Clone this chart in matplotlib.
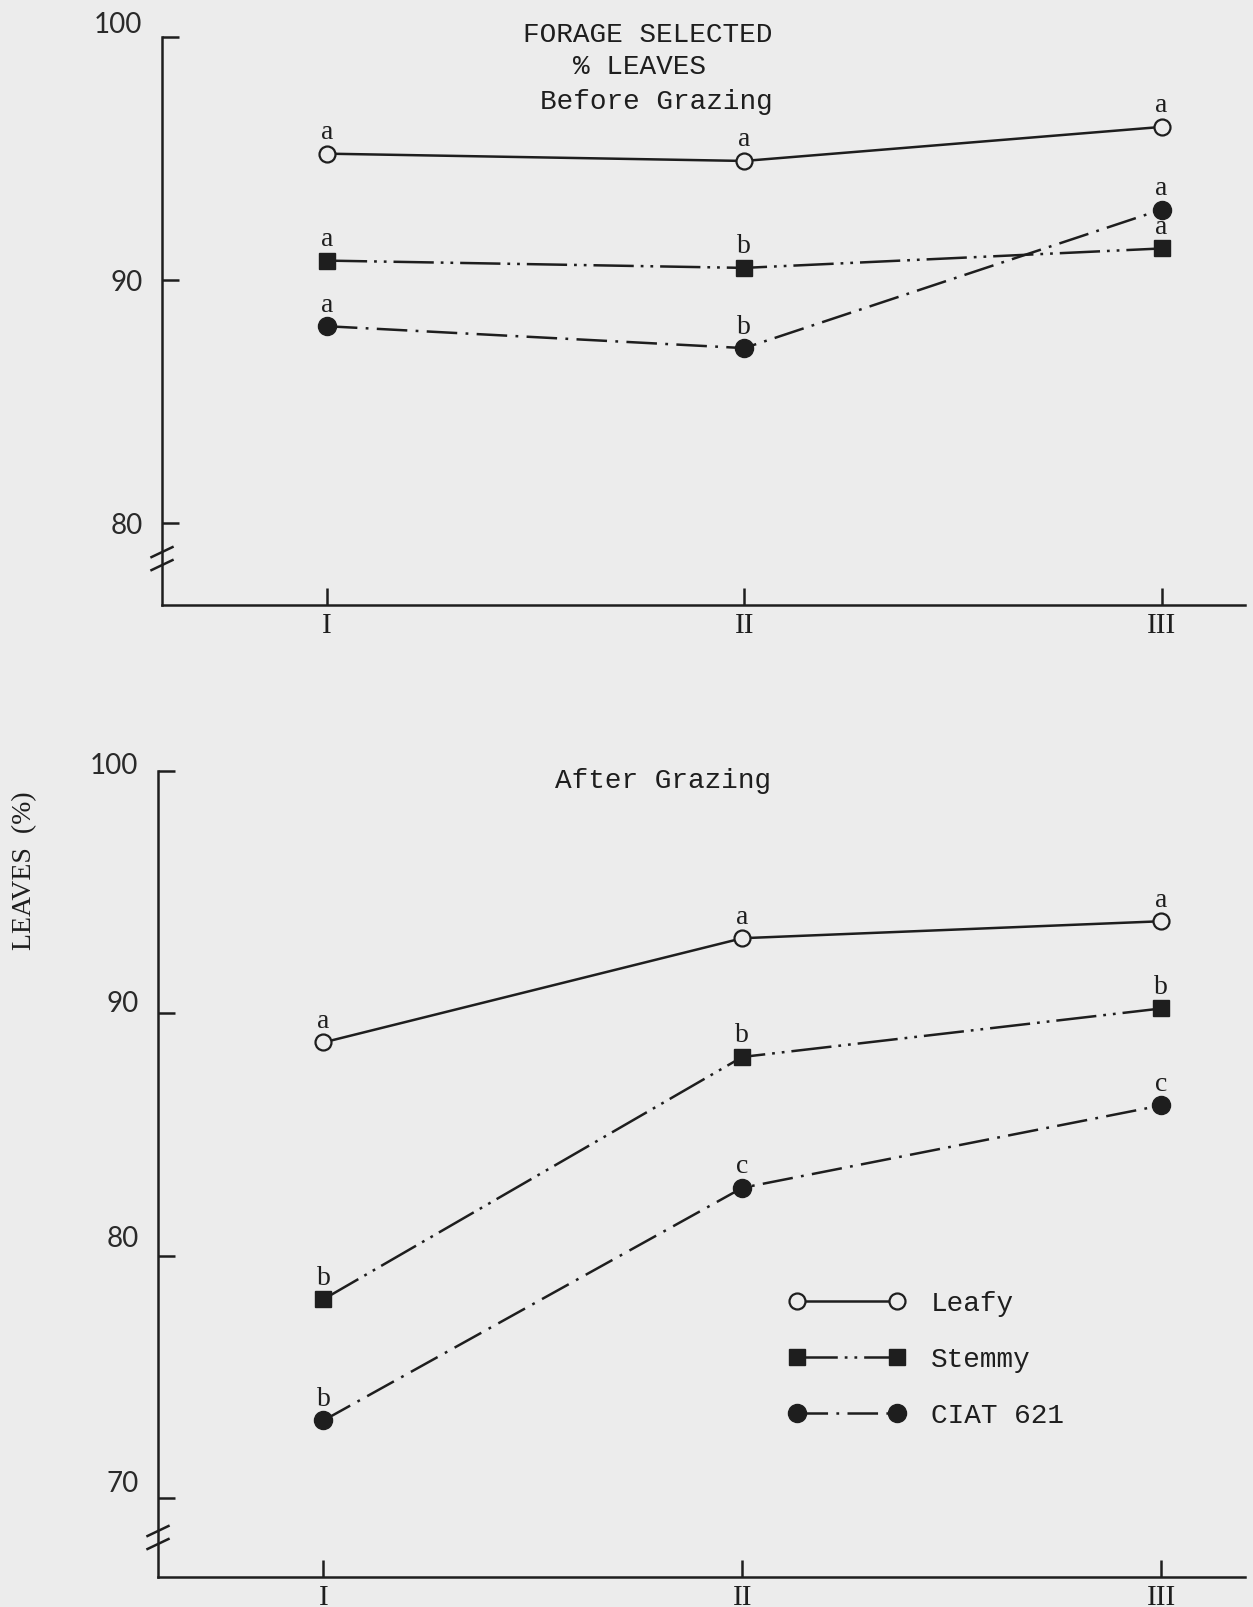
import matplotlib
matplotlib.use("Agg")
import matplotlib.pyplot as plt
import matplotlib.transforms as mtransforms
from matplotlib.lines import Line2D

# ---- data -------------------------------------------------------------
periods = ["I", "II", "III"]
period_pos = [1, 2, 3]

before_leafy = [95.2, 94.9, 96.3]
before_stemmy = [90.8, 90.5, 91.3]
before_ciat = [88.1, 87.2, 92.9]

after_leafy = [88.8, 93.1, 93.8]
after_stemmy = [78.2, 88.2, 90.2]
after_ciat = [73.2, 82.8, 86.2]

before_letters_leafy = ["a", "a", "a"]
before_letters_stemmy = ["a", "b", "a"]
before_letters_ciat = ["a", "b", "a"]
after_letters_leafy = ["a", "a", "a"]
after_letters_stemmy = ["b", "b", "b"]
after_letters_ciat = ["b", "c", "c"]

before_yticks = [80, 90, 100]
after_yticks = [70, 80, 90, 100]

series_names = ["Leafy", "Stemmy", "CIAT 621"]

# ---- styling ----------------------------------------------------------
plt.rcParams["lines.scale_dashes"] = False
INK = "#1e1e1e"
PAPER = "#ececec"
MONO = "Liberation Mono"
SERIF = "Liberation Serif"
NUM = "Lato"

W, H = 1253, 1607
fig = plt.figure(figsize=(W / 100, H / 100), dpi=100, facecolor=PAPER)

def px_axes(left, right, top, bottom):
    return fig.add_axes([left / W, 1 - bottom / H, (right - left) / W, (bottom - top) / H])

styles = {
    "Leafy": dict(linestyle="-", marker="o", markersize=11.5, markerfacecolor=PAPER,
                  markeredgecolor=INK, markeredgewidth=1.6),
    "Stemmy": dict(linestyle=(0, (29, 5, 2, 5, 2, 5)), marker="s", markersize=11,
                   markerfacecolor=INK, markeredgecolor=INK, markeredgewidth=1),
    "CIAT 621": dict(linestyle=(0, (22, 6, 2, 6)), marker="o", markersize=13,
                     markerfacecolor=INK, markeredgecolor=INK, markeredgewidth=1),
}

def draw_panel(ax, series, letters, yticks, ylim, label_offsets, breaks_px, height_px):
    ax.set_facecolor("none")
    for name, vals in zip(series_names, series):
        ax.plot(period_pos, vals, color=INK, linewidth=1.8, zorder=3, **styles[name])
    for vals, labs in zip(series, letters):
        for x, y, t in zip(period_pos, vals, labs):
            ax.annotate(t, (x, y), xytext=(0, 10.5), textcoords="offset points",
                        ha="center", va="baseline", fontsize=20, family=SERIF,
                        color=INK, zorder=4)
    ax.set_xlim(0.605, 3.2)
    ax.set_ylim(*ylim)
    for s in ("top", "right"):
        ax.spines[s].set_visible(False)
    for s in ("left", "bottom"):
        ax.spines[s].set_linewidth(1.8)
        ax.spines[s].set_color(INK)
    ax.spines["left"].set_bounds(ylim[0], yticks[-1])
    ax.set_xticks(period_pos)
    ax.set_xticklabels(periods, family=SERIF, fontsize=21, color=INK)
    ax.set_yticks(yticks)
    ax.set_yticklabels([str(v) for v in yticks], family=NUM, fontsize=20, color="#2a2a2a")
    ax.tick_params(axis="both", direction="in", length=12, width=1.8, color=INK)
    ax.tick_params(axis="y", pad=14)
    ax.tick_params(axis="x", pad=6)
    for lab, dy in zip(ax.get_yticklabels(), label_offsets):
        lab.set_transform(lab.get_transform() +
                          mtransforms.ScaledTranslation(0, dy / 100, fig.dpi_scale_trans))
    # axis-break marks on the y axis, placed in pixels below the lowest tick
    unit_px = height_px / (ylim[1] - ylim[0])
    trans = ax.get_yaxis_transform()
    half_w = 10.5 / (ax.get_position().width * W)
    for off in breaks_px:
        yc = yticks[0] - off / unit_px
        dy = 5 / unit_px
        ax.add_line(Line2D([-half_w, half_w], [yc - dy, yc + dy],
                           transform=trans, color=INK, lw=1.8, clip_on=False))

# top panel: before grazing
ax1 = px_axes(162, 1245, 37, 605)
draw_panel(ax1, [before_leafy, before_stemmy, before_ciat],
           [before_letters_leafy, before_letters_stemmy, before_letters_ciat],
           before_yticks, (76.63, 100), [0, 0, 14], [29, 42], 605 - 37)

# bottom panel: after grazing
ax2 = px_axes(158, 1245, 771, 1577)
draw_panel(ax2, [after_leafy, after_stemmy, after_ciat],
           [after_letters_leafy, after_letters_stemmy, after_letters_ciat],
           after_yticks, (66.74, 100), [16, 19, 12, 8], [33, 46], 1577 - 771)

# titles
fig.text(523 / W, 1 - 35 / H, "FORAGE SELECTED", family=MONO, fontsize=20,
         color=INK, ha="left", va="center")
fig.text(573 / W, 1 - 67 / H, "% LEAVES", family=MONO, fontsize=20,
         color=INK, ha="left", va="center")
fig.text(540 / W, 1 - 102 / H, "Before Grazing", family=MONO, fontsize=20,
         color=INK, ha="left", va="center")
fig.text(555 / W, 1 - 781 / H, "After Grazing", family=MONO, fontsize=20,
         color=INK, ha="left", va="center")

# y-axis label
fig.text(25 / W, 1 - 871 / H, "LEAVES  (%)", family=SERIF, fontsize=20, color=INK,
         rotation=90, ha="center", va="center")

# legend
handles = [Line2D([], [], color=INK, linewidth=1.8, **styles[n]) for n in series_names]
leg = ax2.legend(handles, series_names, numpoints=2, frameon=False,
                 handlelength=4.2, handletextpad=0.9, labelspacing=1.08,
                 borderpad=0, borderaxespad=0, loc="center left",
                 bbox_to_anchor=(789 / W, 1 - 1360 / H), bbox_transform=fig.transFigure,
                 prop={"family": MONO, "size": 20})
for t in leg.get_texts():
    t.set_color(INK)

fig.savefig("out.png", dpi=100, facecolor=PAPER)
